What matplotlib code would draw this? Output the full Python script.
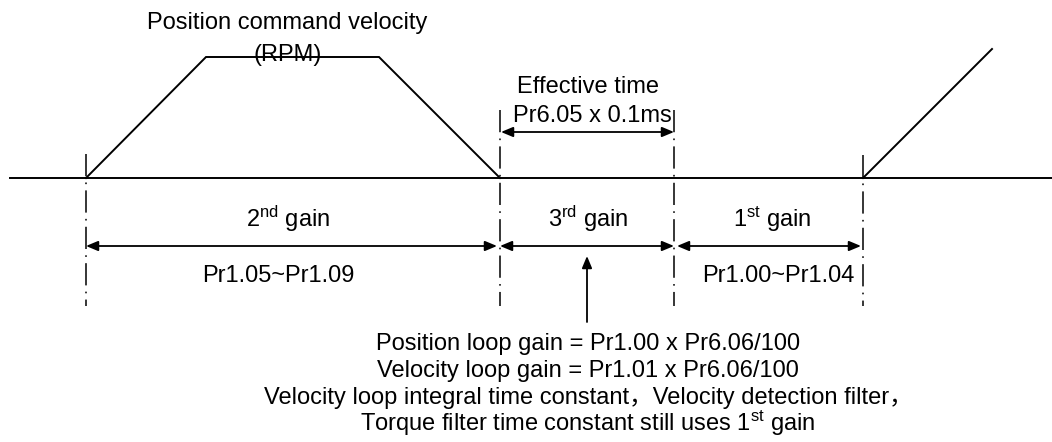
import matplotlib
matplotlib.use('Agg')
import matplotlib.pyplot as plt

# diagram coordinates in pixels (x right, y down)
base_y = 178
base_x = [10, 1052]
vel_x = [86, 206, 379, 500]
vel_y = [178, 57, 57, 178]
ramp_x = [863, 992]
ramp_y = [178, 49]

# dash-dot boundary lines: x, top, bottom
bounds_x = [86, 500, 674, 863]
bounds_top = [154, 110, 110, 155]
bounds_bot = 306

gain_y = 246
gain_spans = [(86, 497), (500, 674), (677, 861)]
gain_labels = [r'2$^{\mathrm{nd}}$ gain', r'3$^{\mathrm{rd}}$ gain', r'1$^{\mathrm{st}}$ gain']
gain_label_x = [288, 588, 772]
param_labels = ['Pr1.05~Pr1.09', '', 'Pr1.00~Pr1.04']
param_label_x = [278, 588, 778]

eff_span = (501, 674)
eff_y = 132

note_lines = [
    'Position loop gain = Pr1.00 x Pr6.06/100',
    'Velocity loop gain = Pr1.01 x Pr6.06/100',
    'Velocity loop integral time constant，Velocity detection filter，',
    r'Torque filter time constant still uses 1$^{\mathrm{st}}$ gain',
]
note_y = [350, 377, 404, 431]

plt.rcParams['font.family'] = ['Liberation Sans', 'Noto Sans CJK SC']
plt.rcParams['mathtext.fontset'] = 'custom'
plt.rcParams['mathtext.rm'] = 'Liberation Sans'
plt.rcParams['mathtext.it'] = 'Liberation Sans:italic'
plt.rcParams['lines.scale_dashes'] = False

fig = plt.figure(figsize=(10.52, 4.42), dpi=100)
ax = fig.add_axes([0, 0, 1, 1])
ax.set_xlim(0, 1052)
ax.set_ylim(442, 0)
ax.axis('off')

fs = 17
lw = 1.4
arrow = dict(arrowstyle='<|-|>,head_length=0.72,head_width=0.3', color='black',
             lw=1.3, mutation_scale=10, shrinkA=0, shrinkB=0)

ax.plot(base_x, [base_y, base_y], color='black', lw=lw)
ax.plot(vel_x, vel_y, color='black', lw=lw, solid_joinstyle='miter')
ax.plot(ramp_x, ramp_y, color='black', lw=lw)

for x, top in zip(bounds_x, bounds_top):
    ax.plot([x, x], [top, bounds_bot], color='black', lw=1.1,
            linestyle=(0, (16, 4.5, 1.2, 4.5)))

for (x0, x1) in gain_spans:
    ax.annotate('', xy=(x1, gain_y), xytext=(x0, gain_y), arrowprops=arrow)
ax.annotate('', xy=(eff_span[1], eff_y), xytext=(eff_span[0], eff_y), arrowprops=arrow)

for lab, x in zip(gain_labels, gain_label_x):
    ax.text(x, 227, lab, fontsize=fs, ha='center', va='baseline')
for lab, x in zip(param_labels, param_label_x):
    if lab:
        ax.text(x, 282, lab, fontsize=fs, ha='center', va='baseline')

ax.text(287, 29, 'Position command velocity', fontsize=fs, ha='center', va='baseline')
ax.text(288, 61, '(RPM)', fontsize=fs, ha='center', va='baseline')
ax.text(588, 93, 'Effective time', fontsize=fs, ha='center', va='baseline')
ax.text(592, 122, 'Pr6.05 x 0.1ms', fontsize=fs, ha='center', va='baseline')

# arrow pointing up to the 3rd gain zone
ax.annotate('', xy=(587, 256), xytext=(587, 322),
            arrowprops=dict(arrowstyle='-|>,head_length=0.72,head_width=0.3',
                            color='black', lw=1.3, mutation_scale=10,
                            shrinkA=0, shrinkB=0))

for line, y in zip(note_lines, note_y):
    ax.text(588, y, line, fontsize=fs, ha='center', va='baseline')

fig.savefig('out.png', dpi=100)
